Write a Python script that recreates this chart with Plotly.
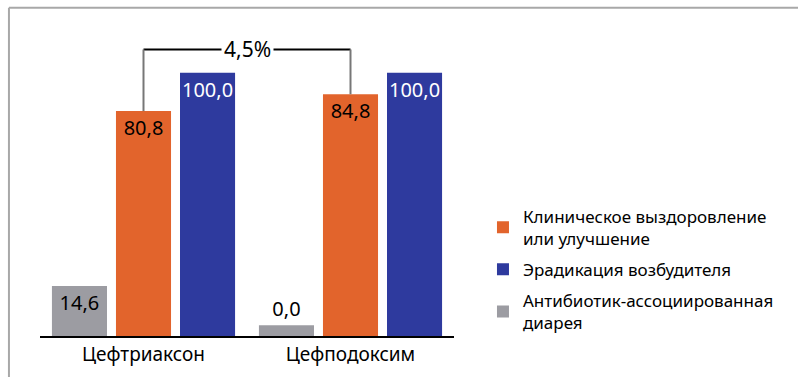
import plotly.graph_objects as go

categories = ["Цефтриаксон", "Цефподоксим"]
series_names = ["Антибиотик-ассоциированная<br>диарея",
                "Клиническое выздоровление<br>или улучшение",
                "Эрадикация возбудителя"]
# values printed on the bars
labels_diarrhea = ["14,6", "0,0"]
labels_clinical = ["80,8", "84,8"]
labels_eradication = ["100,0", "100,0"]
# bar heights as drawn in the picture (the original is not to scale)
heights_diarrhea = [19.0, 4.1]
heights_clinical = [85.4, 91.8]
heights_eradication = [100.0, 100.0]
bracket_label = "4,5%"
bracket_level = 108.8

colors = ["#9c9ca2", "#e2642c", "#2e3a9e"]
FONT = "Noto Sans"

fig = go.Figure()
fig.add_trace(go.Bar(
    x=categories, y=heights_diarrhea, name=series_names[0], legendrank=3,
    legendgroup="c",
    marker=dict(color=colors[0], line=dict(width=0)),
    text=labels_diarrhea, textposition=["inside", "outside"], textangle=0,
    insidetextanchor="end", constraintext="none",
    textfont=dict(color="black", size=20, family=FONT),
))
fig.add_trace(go.Bar(
    x=categories, y=heights_clinical, name=series_names[1], legendrank=1,
    legendgroup="a",
    marker=dict(color=colors[1], line=dict(width=0)),
    text=labels_clinical, textposition="inside", textangle=0,
    insidetextanchor="end", constraintext="none",
    textfont=dict(color="black", size=20, family=FONT),
))
fig.add_trace(go.Bar(
    x=categories, y=heights_eradication, name=series_names[2], legendrank=2,
    legendgroup="b",
    marker=dict(color=colors[2], line=dict(width=0)),
    text=labels_eradication, textposition="inside", textangle=0,
    insidetextanchor="end", constraintext="none",
    textfont=dict(color="white", size=20, family=FONT),
))

# bracket between clinical bars (middle bar of each group sits at the category centre)
line_black = dict(color="black", width=2)
line_grey = dict(color="#777777", width=2)
fig.add_shape(type="line", xref="x", yref="y", x0=0, x1=1,
              y0=bracket_level, y1=bracket_level, line=line_black)
fig.add_shape(type="line", xref="x", yref="y", x0=0, x1=0,
              y0=heights_clinical[0], y1=bracket_level, line=line_grey)
fig.add_shape(type="line", xref="x", yref="y", x0=1, x1=1,
              y0=heights_clinical[1], y1=bracket_level, line=line_grey)
fig.add_annotation(x=0.5, y=bracket_level, xref="x", yref="y", text=bracket_label,
                   showarrow=False, bgcolor="white",
                   font=dict(size=21, color="black", family=FONT), borderpad=2)

# frame (top and left)
frame = dict(color="#a8a8a8", width=2)
fig.add_shape(type="line", xref="paper", yref="paper", x0=-0.075, x1=1.84,
              y0=1.039, y1=1.039, line=frame)
fig.add_shape(type="line", xref="paper", yref="paper", x0=-0.075, x1=-0.075,
              y0=1.039, y1=-0.13, line=frame)

fig.update_layout(
    width=798, height=379,
    margin=dict(l=40, r=344, t=20, b=37),
    paper_bgcolor="white", plot_bgcolor="white",
    barmode="group", bargap=0.072, bargroupgap=0.14,
    font=dict(family=FONT, size=18, color="black"),
    showlegend=True,
    legend=dict(x=1.07, y=0.435, xanchor="left", yanchor="top",
                font=dict(size=17, family=FONT, color="black"),
                traceorder="grouped", tracegroupgap=6, itemwidth=30),
    xaxis=dict(showline=True, linecolor="black", linewidth=2, ticks="",
               tickfont=dict(size=19, family=FONT, color="black"),
               showgrid=False, zeroline=False),
    yaxis=dict(range=[0, 120], visible=False, showgrid=False, zeroline=False),
)

fig.write_html("out.html")
